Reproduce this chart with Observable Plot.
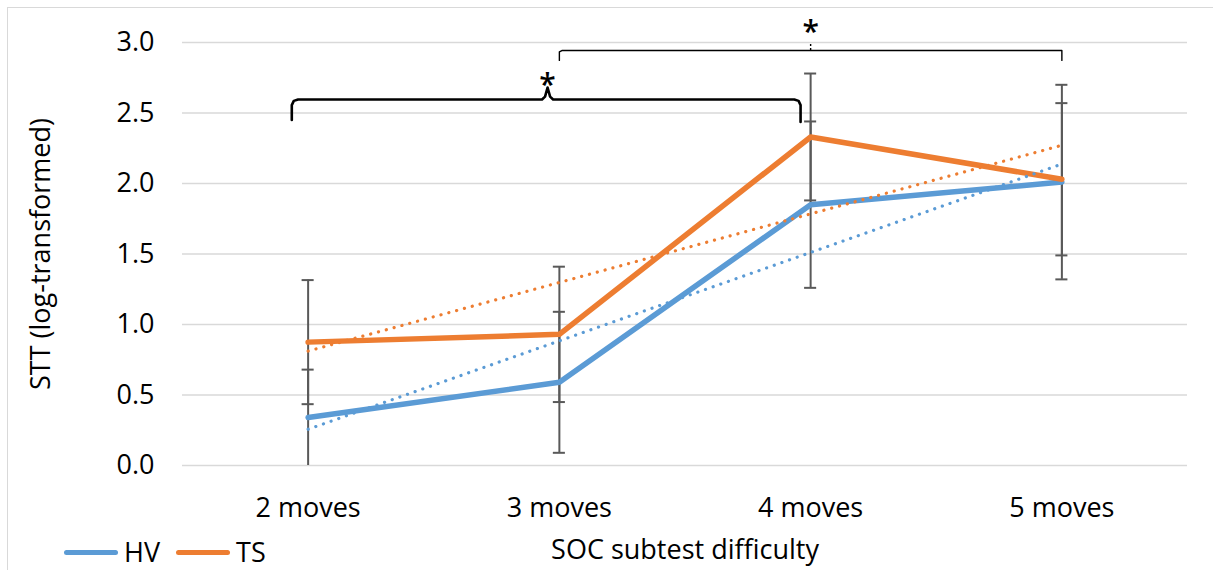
<!DOCTYPE html>
<html>
<head>
<meta charset="utf-8">
<script src="https://cdn.jsdelivr.net/npm/d3@7"></script>
<script src="https://cdn.jsdelivr.net/npm/@observablehq/plot@0.6"></script>
<style>
  html, body { margin: 0; padding: 0; background: #fff; }
  #wrap { position: relative; width: 1213px; height: 570px; overflow: hidden; font-family: "Open Sans", sans-serif; }
  #frame { position: absolute; left: 7px; top: 7px; right: -10px; bottom: -10px; border-left: 1.5px solid #d9d9d9; border-top: 1.5px solid #d9d9d9; pointer-events: none; }
  #legend { position: absolute; left: 64px; top: 537px; display: flex; align-items: center; font-size: 27px; line-height: 30px; color: #000; }
  .key { display: flex; align-items: center; margin-right: 16px; }
  .swatch { width: 54px; height: 5px; border-radius: 3px; margin-right: 6px; }
</style>
</head>
<body>
<div id="wrap">
  <div id="chart"></div>
  <div id="frame"></div>
  <div id="legend"></div>
</div>
<script>
// SOC subtest difficulty (number of moves) and the tick labels shown for it
const moves = [2, 3, 4, 5];
const moveLabels = ["2 moves", "3 moves", "4 moves", "5 moves"];

// Mean log-transformed STT and error-bar half widths per group
const hvMean = [0.34, 0.59, 1.85, 2.01];
const hvErr  = [0.34, 0.50, 0.59, 0.69];
const tsMean = [0.875, 0.93, 2.33, 2.03];
const tsErr  = [0.44, 0.48, 0.45, 0.54];

const groups = ["HV", "TS"];
const groupColors = ["#5B9BD5", "#ED7D31"];
const yTicks = [0, 0.5, 1, 1.5, 2, 2.5, 3];

// Significance brackets: spans in moves, level in STT units
const braceSpan = [1.935, 3.96], braceLevel = 2.596, braceTip = 2.953;
const bracketSpan = [3.0, 5.0], bracketLevel = 2.943, bracketTip = 4.0;

const rows = [];
moves.forEach((m, i) => {
  rows.push({group: "HV", moves: m, mean: hvMean[i], err: hvErr[i]});
  rows.push({group: "TS", moves: m, mean: tsMean[i], err: tsErr[i]});
});

const colorOf = g => groupColors[groups.indexOf(g)];
const capHalf = 0.024;

// Curly brace outline between two difficulty levels
const [b0, b1] = braceSpan;
const brace = [
  [b0, braceLevel - 0.145], [b0, braceLevel - 0.04], [b0 + 0.008, braceLevel - 0.01], [b0 + 0.025, braceLevel],
  [braceTip - 0.022, braceLevel], [braceTip - 0.01, braceLevel + 0.02], [braceTip, braceLevel + 0.085],
  [braceTip + 0.01, braceLevel + 0.02], [braceTip + 0.022, braceLevel],
  [b1 - 0.025, braceLevel], [b1 - 0.008, braceLevel - 0.01], [b1, braceLevel - 0.04], [b1, braceLevel - 0.16]
].map(([x, y]) => ({x, y}));

const [k0, k1] = bracketSpan;
const bracket = [
  [k0, bracketLevel - 0.07], [k0, bracketLevel - 0.01], [k0 + 0.01, bracketLevel],
  [k1, bracketLevel], [k1, bracketLevel - 0.07]
].map(([x, y]) => ({x, y}));

const chart = Plot.plot({
  width: 1213,
  height: 570,
  marginLeft: 182,
  marginRight: 26,
  marginTop: 42,
  marginBottom: 105,
  style: {fontFamily: "Open Sans, sans-serif", background: "transparent", color: "#000", overflow: "visible"},
  x: {type: "linear", domain: [1.5, 5.5]},
  y: {domain: [0, 3]},
  marks: [
    Plot.gridY(yTicks, {stroke: "#d9d9d9", strokeOpacity: 1, strokeWidth: 1.6}),
    Plot.axisY(yTicks, {
      tickSize: 0, tickPadding: 28, fontSize: 27, tickFormat: d => d.toFixed(1),
      label: "STT (log-transformed)", labelAnchor: "center", labelArrow: "none", labelOffset: 152
    }),
    Plot.axisX(moves, {
      tickSize: 0, tickPadding: 32, fontSize: 27, tickFormat: d => moveLabels[moves.indexOf(d)],
      label: "SOC subtest difficulty", labelAnchor: "center", labelArrow: "none", labelOffset: 93
    }),
    // error bars
    Plot.ruleX(rows, {x: "moves", y1: d => d.mean - d.err, y2: d => d.mean + d.err, stroke: "#595959", strokeWidth: 2}),
    Plot.ruleY(rows, {y: d => d.mean + d.err, x1: d => d.moves - capHalf, x2: d => d.moves + capHalf, stroke: "#595959", strokeWidth: 2}),
    Plot.ruleY(rows.filter(d => d.mean - d.err > 0.001), {y: d => d.mean - d.err, x1: d => d.moves - capHalf, x2: d => d.moves + capHalf, stroke: "#595959", strokeWidth: 2}),
    // group means
    ...groups.map(g => Plot.line(rows.filter(d => d.group === g), {
      x: "moves", y: "mean", stroke: colorOf(g), strokeWidth: 5.5, strokeLinejoin: "round", strokeLinecap: "round"
    })),
    // linear trend lines (dotted)
    ...groups.map(g => Plot.linearRegressionY(rows.filter(d => d.group === g), {
      x: "moves", y: "mean", stroke: colorOf(g), strokeWidth: 3.2, strokeDasharray: "0.1 8", strokeLinecap: "round", ci: 0
    })),
    // significance annotations
    Plot.line(brace, {x: "x", y: "y", stroke: "#000", strokeWidth: 2.6, strokeLinejoin: "round"}),
    Plot.line(bracket, {x: "x", y: "y", stroke: "#000", strokeWidth: 1.4}),
    Plot.ruleX([bracketTip], {y1: bracketLevel, y2: 3.0, stroke: "#000", strokeWidth: 1.4, strokeDasharray: "2 2"}),
    Plot.text([{x: braceTip, y: 2.754}, {x: bracketTip, y: 3.13}], {
      x: "x", y: "y", text: () => "*", fontSize: 30, fontWeight: 600, fill: "#000", dy: 8
    })
  ]
});
document.getElementById("chart").appendChild(chart);

// legend
const legend = document.getElementById("legend");
groups.forEach((g, i) => {
  const key = document.createElement("div");
  key.className = "key";
  const sw = document.createElement("div");
  sw.className = "swatch";
  sw.style.background = groupColors[i];
  const label = document.createElement("span");
  label.textContent = g;
  key.appendChild(sw);
  key.appendChild(label);
  legend.appendChild(key);
});
</script>
</body>
</html>
